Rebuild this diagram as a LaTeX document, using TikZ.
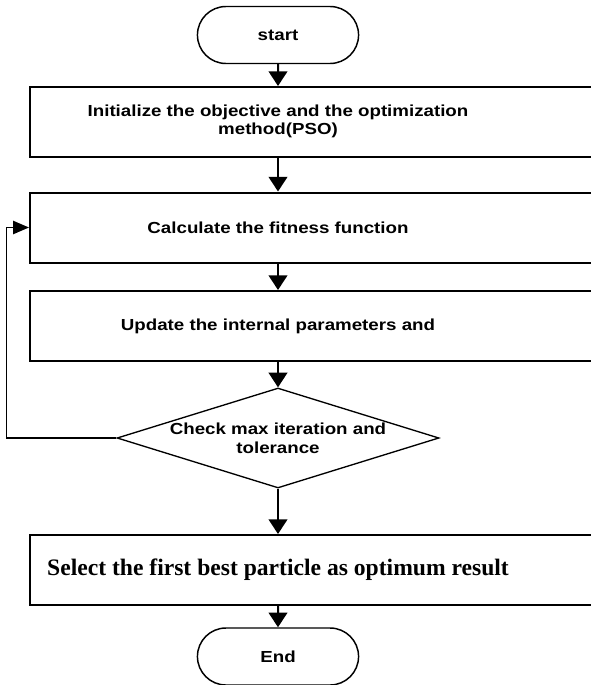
\documentclass[tikz,border=0pt]{standalone}
\usepackage{fontspec}
\setmainfont{Liberation Serif}
\newfontfamily\flowfont[FakeStretch=1.17]{Liberation Sans}
\usetikzlibrary{shapes.geometric,shapes.misc,arrows.meta}

\begin{document}
\begin{tikzpicture}[
        terminal/.style={draw, rounded rectangle, line width=1.1pt, minimum width=127.5pt, minimum height=42.75pt, font=\flowfont\bfseries\fontsize{12}{13}\selectfont},
        stepbox/.style={draw, rectangle, line width=1.5pt, minimum width=442.5pt, minimum height=52.5pt, inner sep=0pt, font=\flowfont\bfseries\fontsize{12}{13}\selectfont},
        decision/.style={draw, diamond, aspect=3.2, line width=1pt, minimum width=241.5pt, minimum height=75pt, inner sep=0pt},
        arr/.style={line width=1.5pt, -{Triangle[length=11pt,width=14pt]}}
    ]
                \useasboundingbox (0,0) rectangle (443.25pt,-513.75pt);
                \clip (0,0) rectangle (443.25pt,-513.75pt);

                \node (start) [terminal] at (208.5pt,-26.25pt) {start};
                \node (init) [stepbox, below of=start, node distance=65.25pt, xshift=35.25pt] {\begin{tabular}{@{}c@{}}Initialize the objective and the optimization\\method(PSO)\end{tabular}\hspace*{70.5pt}};
                \node (calc) [stepbox, below of=init, node distance=79.125pt] {Calculate the fitness function\hspace*{70.5pt}};
                \node (update) [stepbox, below of=calc, node distance=73.875pt] {Update the internal parameters and\hspace*{70.5pt}};
                \node (check) [decision, below of=update, node distance=84pt, xshift=-35.25pt] {};
                \node (checktext) [align=center, font=\flowfont\bfseries\fontsize{12}{14.25}\selectfont] at (check) {Check max iteration and\\tolerance};
                \node (select) [stepbox, below of=check, node distance=99pt, xshift=35.25pt, font=\rmfamily\bfseries\fontsize{17.7}{20}\selectfont] {Select the first best particle as optimum result\hspace*{70.5pt}};
                \node (stop) [terminal, below of=select, node distance=64.875pt, xshift=-35.25pt] {End};

                \draw [arr] (start) -- (start |- init.north);
                \draw [arr] (start |- init.south) -- (start |- calc.north);
                \draw [arr] (start |- calc.south) -- (start |- update.north);
                \draw [arr] (check |- update.south) -- (check);
                \draw [line width=1.1pt, -{Triangle[length=12pt,width=10pt]}] (check.west) -- ++(-82.5pt,0) |- (calc.west);
                \draw [arr] (check) -- (check |- select.north);
                \draw [arr] (stop |- select.south) -- (stop);
            \end{tikzpicture}
\end{document}
